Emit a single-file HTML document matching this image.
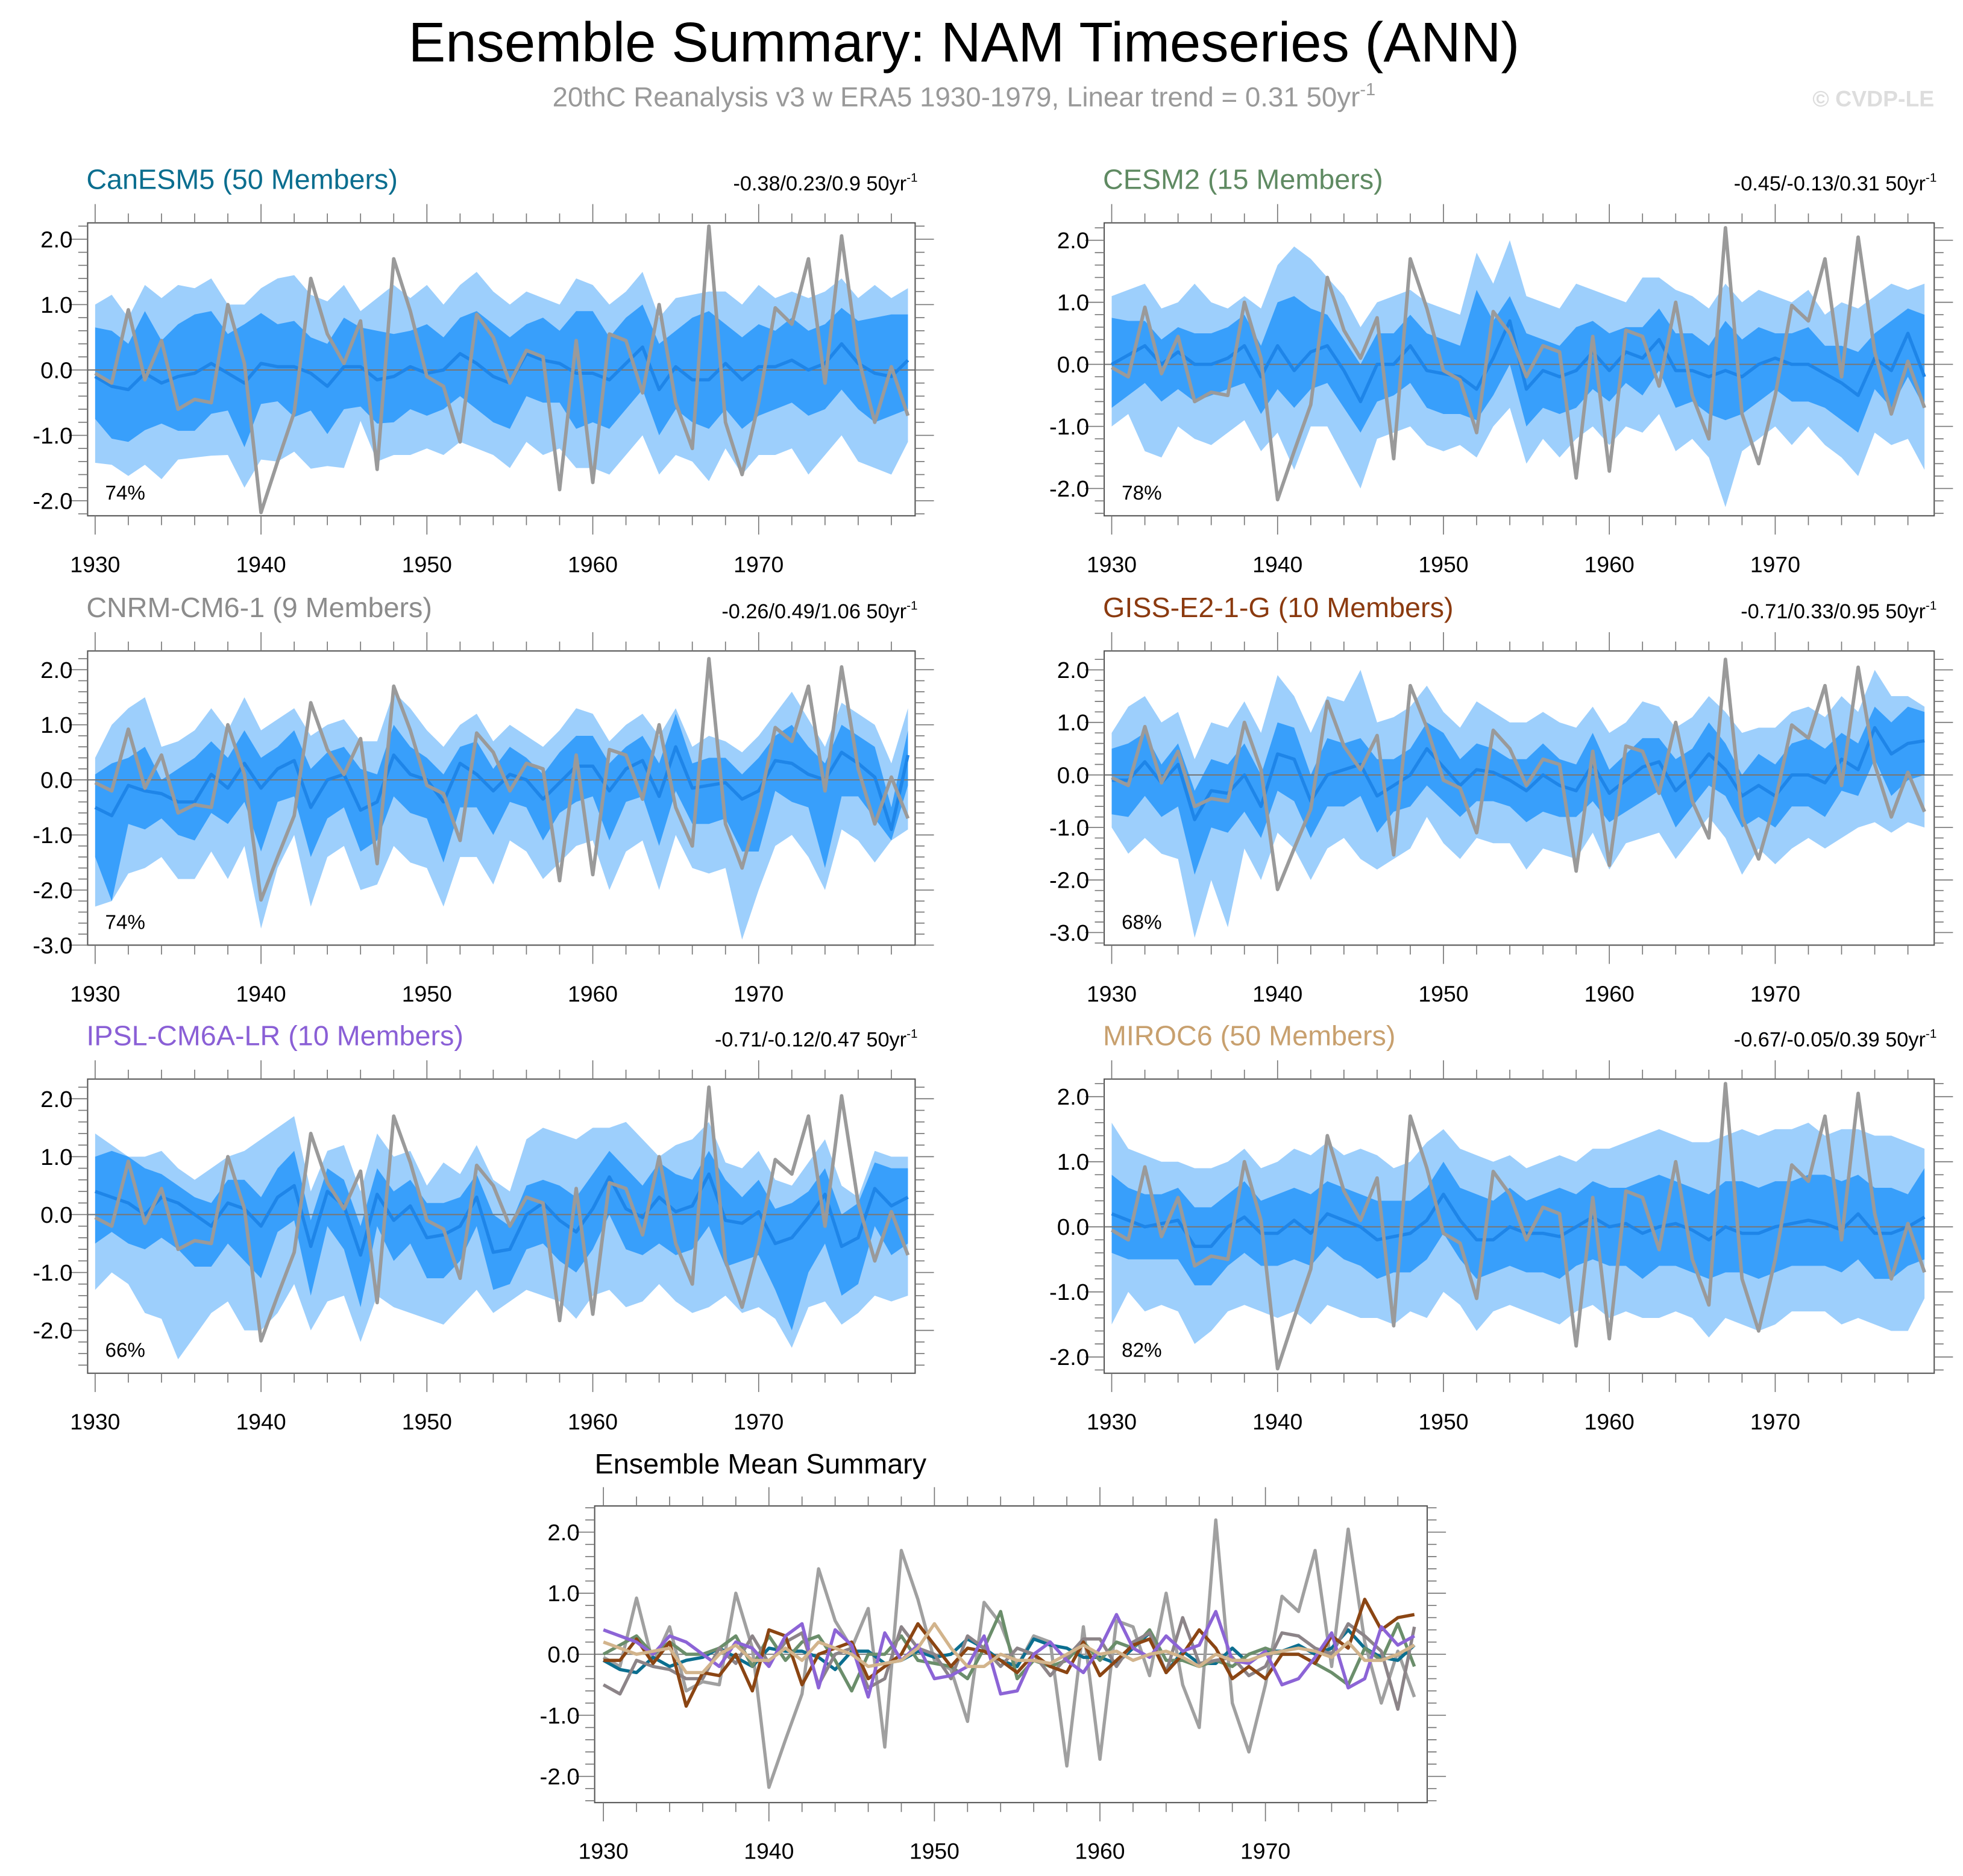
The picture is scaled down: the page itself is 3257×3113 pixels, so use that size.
<!DOCTYPE html>
<html><head><meta charset="utf-8">
<style>
html,body{margin:0;padding:0;background:#fff;}
svg{display:block;font-family:"Liberation Sans",sans-serif;}
</style></head>
<body>
<svg id="chart" width="3257" height="3113" viewBox="0 0 1568 1498.6" xmlns="http://www.w3.org/2000/svg">
<text x="770" y="49" font-size="44.5" text-anchor="middle" fill="#000">Ensemble Summary: NAM Timeseries (ANN)</text>
<text x="770" y="85" font-size="22" text-anchor="middle" fill="#999">20thC Reanalysis v3 w ERA5 1930-1979, Linear trend = 0.31 50yr<tspan font-size="14" dy="-9">-1</tspan></text>
<text x="1545" y="85" font-size="18" font-weight="bold" text-anchor="end" fill="#ddd">© CVDP-LE</text>
<g id="plots"></g>
</svg>
<script>
const years = [];
for (let y = 1930; y <= 1979; y++) years.push(y);
const obs = [-0.05,-0.2,0.92,-0.15,0.45,-0.6,-0.45,-0.5,1.0,0.1,-2.18,-1.4,-0.65,1.4,0.55,0.1,0.75,-1.52,1.7,0.9,-0.1,-0.25,-1.1,0.85,0.5,-0.2,0.3,0.2,-1.83,0.45,-1.72,0.55,0.45,-0.35,1.0,-0.5,-1.2,2.2,-0.8,-1.6,-0.5,0.95,0.7,1.7,-0.2,2.05,0.2,-0.8,0.05,-0.7];

const canMean = [-0.1,-0.25,-0.3,-0.05,-0.2,-0.1,-0.05,0.1,-0.05,-0.2,0.1,0.05,0.05,-0.05,-0.25,0.05,0.05,-0.15,-0.1,0.05,-0.05,0.0,0.25,0.1,-0.1,-0.2,0.25,0.15,0.1,-0.05,-0.05,-0.15,0.1,0.35,-0.3,0.05,-0.15,-0.15,0.1,-0.15,0.05,0.05,0.15,0.0,0.1,0.4,0.1,-0.05,-0.1,0.15];
const canHi2 = [1.0,1.15,0.8,1.3,1.1,1.3,1.25,1.4,1.0,1.0,1.25,1.4,1.45,1.15,1.05,1.3,0.9,1.1,1.3,1.1,1.3,1.0,1.3,1.5,1.2,1.0,1.2,1.1,1.0,1.4,1.3,1.0,1.2,1.5,0.8,1.1,1.15,1.2,1.2,1.0,1.3,1.1,1.2,1.1,1.2,1.4,1.1,1.3,1.1,1.25];
const canHi1 = [0.65,0.6,0.4,0.9,0.45,0.7,0.85,0.9,0.55,0.7,0.87,0.7,0.75,0.5,0.4,0.8,0.65,0.6,0.55,0.6,0.7,0.5,0.8,0.9,0.7,0.5,0.7,0.8,0.6,0.9,0.9,0.5,0.8,1.0,0.4,0.6,0.8,0.9,0.7,0.5,0.7,0.6,0.8,0.6,0.7,0.95,0.75,0.8,0.85,0.85];
const canLo1 = [-0.75,-1.05,-1.1,-0.92,-0.82,-0.93,-0.93,-0.67,-0.62,-1.18,-0.52,-0.48,-0.72,-0.62,-0.98,-0.6,-0.56,-0.82,-0.8,-0.6,-0.7,-0.6,-0.4,-0.6,-0.8,-0.9,-0.4,-0.5,-0.5,-0.9,-0.8,-0.9,-0.6,-0.3,-1.0,-0.6,-0.8,-0.9,-0.6,-0.9,-0.7,-0.6,-0.5,-0.7,-0.6,-0.3,-0.6,-0.8,-0.7,-0.6];
const canLo2 = [-1.42,-1.45,-1.62,-1.45,-1.67,-1.37,-1.34,-1.31,-1.3,-1.8,-1.37,-1.4,-1.25,-1.51,-1.47,-1.5,-0.78,-1.4,-1.3,-1.3,-1.2,-1.3,-1.1,-1.2,-1.3,-1.5,-1.1,-1.3,-1.2,-1.5,-1.5,-1.6,-1.3,-1.0,-1.6,-1.3,-1.4,-1.7,-1.2,-1.6,-1.3,-1.3,-1.2,-1.6,-1.3,-1.0,-1.4,-1.5,-1.6,-1.1];

const cesmMean = [0.0,0.15,0.3,0.0,0.2,0.0,0.0,0.1,0.3,-0.2,0.3,-0.1,0.2,0.3,-0.1,-0.6,0.0,0.0,0.3,-0.1,-0.15,-0.2,-0.4,0.1,0.7,-0.4,-0.1,-0.2,-0.1,0.2,-0.1,0.2,0.1,0.4,-0.1,-0.1,-0.2,-0.1,-0.2,0.0,0.1,0.0,0.0,-0.15,-0.3,-0.5,0.1,-0.1,0.5,-0.2];
const cesmHi2 = [1.1,1.2,1.3,0.9,1.0,1.3,1.0,0.9,1.1,0.9,1.6,1.9,1.7,1.4,1.1,0.6,1.0,1.1,1.2,1.0,0.9,0.8,1.8,1.3,2.0,1.1,1.0,0.9,1.3,1.2,1.1,1.0,1.4,1.4,1.2,1.1,0.9,1.3,1.0,1.2,1.1,1.0,1.2,0.8,1.0,0.9,1.1,1.3,1.2,1.3];
const cesmHi1 = [0.75,0.7,0.7,0.4,0.6,0.5,0.5,0.6,0.8,0.3,1.0,1.1,0.9,0.8,0.4,0.0,0.5,0.5,0.8,0.5,0.4,0.3,1.2,0.7,1.1,0.5,0.4,0.3,0.6,0.7,0.5,0.6,0.6,0.9,0.5,0.5,0.3,0.7,0.4,0.6,0.5,0.5,0.6,0.3,0.3,0.2,0.5,0.7,0.9,0.8];
const cesmLo1 = [-0.7,-0.5,-0.3,-0.6,-0.4,-0.6,-0.5,-0.4,-0.3,-0.8,-0.4,-0.7,-0.4,-0.3,-0.7,-1.1,-0.6,-0.5,-0.3,-0.7,-0.8,-0.8,-0.9,-0.5,0.0,-1.0,-0.7,-0.8,-0.7,-0.4,-0.6,-0.3,-0.5,-0.1,-0.7,-0.6,-0.8,-0.9,-0.8,-0.6,-0.4,-0.6,-0.6,-0.7,-0.9,-1.1,-0.4,-0.7,-0.2,-0.7];
const cesmLo2 = [-1.0,-0.8,-1.4,-1.5,-1.0,-1.2,-1.3,-1.1,-0.9,-1.4,-1.1,-1.7,-1.0,-1.0,-1.5,-2.0,-1.2,-1.1,-1.0,-1.3,-1.4,-1.3,-1.5,-1.0,-0.7,-1.6,-1.2,-1.5,-1.2,-1.0,-1.3,-1.0,-1.1,-0.8,-1.4,-1.2,-1.5,-2.3,-1.4,-1.2,-1.0,-1.3,-1.0,-1.3,-1.5,-1.8,-1.1,-1.3,-1.2,-1.7];

const cnrmMean = [-0.5,-0.65,-0.1,-0.2,-0.25,-0.4,-0.4,0.1,-0.15,0.3,-0.15,0.2,0.35,-0.5,0.0,0.1,-0.55,-0.4,0.45,0.1,0.0,-0.4,0.3,0.1,-0.2,0.1,0.0,-0.35,-0.05,0.25,0.25,-0.2,0.2,0.35,-0.3,0.6,-0.15,-0.1,-0.05,-0.35,-0.2,0.35,0.3,0.1,0.0,0.5,0.3,0.05,-0.9,0.45];
const cnrmHi2 = [0.4,1.0,1.3,1.5,0.6,0.7,0.9,1.3,0.9,1.5,0.9,1.1,1.3,0.8,1.0,1.1,0.7,0.7,1.6,1.3,0.9,0.6,1.0,1.2,0.7,1.0,0.8,0.6,0.9,1.3,1.2,0.7,1.0,1.2,0.8,1.3,0.6,0.8,0.7,0.5,0.8,1.2,1.6,1.1,0.6,1.4,1.2,1.0,0.3,1.3];
const cnrmHi1 = [0.1,0.3,0.4,0.6,0.0,0.2,0.4,0.7,0.4,0.9,0.4,0.6,0.9,0.2,0.5,0.6,0.2,0.1,1.0,0.6,0.4,0.1,0.6,0.7,0.2,0.6,0.4,0.1,0.5,0.8,0.8,0.3,0.6,0.8,0.3,1.2,0.3,0.4,0.4,0.1,0.4,0.8,1.0,0.6,0.3,1.0,0.8,0.6,-0.5,0.9];
const cnrmLo1 = [-1.4,-2.2,-0.8,-0.9,-0.7,-1.0,-1.1,-0.6,-0.8,-0.4,-1.3,-0.4,-0.3,-1.4,-0.7,-0.5,-1.3,-1.1,-0.3,-0.6,-0.7,-1.5,-0.5,-0.5,-1.0,-0.4,-0.5,-1.1,-0.6,-0.4,-0.3,-1.1,-0.4,-0.3,-1.2,-0.2,-0.8,-0.8,-0.7,-1.3,-1.3,-0.2,-0.4,-0.5,-1.6,-0.3,-0.3,-0.7,-1.1,-0.1];
const cnrmLo2 = [-2.3,-2.2,-1.7,-1.6,-1.4,-1.8,-1.8,-1.3,-1.8,-1.2,-2.7,-1.6,-1.0,-2.3,-1.4,-1.2,-2.0,-1.9,-1.2,-1.5,-1.6,-2.3,-1.4,-1.4,-1.9,-1.1,-1.3,-1.8,-1.5,-1.2,-1.1,-2.0,-1.3,-1.1,-2.0,-1.0,-1.6,-1.7,-1.6,-2.9,-2.0,-1.2,-1.0,-1.4,-2.0,-0.9,-1.1,-1.5,-1.1,-0.9];

const gissMean = [-0.1,-0.1,0.25,-0.15,0.2,-0.85,-0.3,-0.35,0.0,-0.6,0.4,0.3,-0.5,0.0,0.1,0.2,-0.4,-0.2,0.0,0.5,0.15,-0.2,0.1,0.05,-0.1,-0.3,0.0,-0.2,-0.3,0.2,-0.35,-0.1,0.15,0.25,-0.3,0.0,0.4,0.1,-0.4,-0.2,-0.4,0.0,0.0,-0.15,0.3,0.1,0.9,0.4,0.6,0.65];
const gissHi2 = [0.8,1.3,1.5,1.0,1.2,0.3,1.0,0.9,1.4,0.8,1.9,1.5,0.8,1.5,1.4,2.0,1.0,1.1,1.3,1.7,1.2,0.9,1.4,1.2,1.0,1.0,1.2,1.0,0.9,1.3,0.8,1.0,1.4,1.3,0.9,1.1,1.5,1.2,0.8,0.9,0.9,1.2,1.3,1.1,1.5,1.2,2.0,1.5,1.5,1.3];
const gissHi1 = [0.5,0.6,0.8,0.2,0.6,-0.3,0.3,0.2,0.6,0.0,1.0,0.9,0.0,0.7,0.6,0.7,0.3,0.3,0.5,1.0,0.8,0.3,0.6,0.5,0.3,0.3,0.6,0.3,0.2,0.8,0.1,0.4,0.7,0.7,0.3,0.5,1.0,0.6,0.0,0.4,0.2,0.6,0.7,0.5,0.8,0.6,1.3,1.0,1.3,1.2];
const gissLo1 = [-0.75,-0.8,-0.4,-0.8,-0.6,-1.9,-1.0,-1.1,-0.7,-1.2,-0.3,-0.5,-1.2,-0.6,-0.6,-0.4,-1.1,-0.7,-0.6,-0.2,-0.5,-0.8,-0.5,-0.5,-0.6,-0.9,-0.7,-0.8,-0.8,-0.5,-0.9,-0.7,-0.5,-0.3,-1.0,-0.6,-0.2,-0.4,-1.0,-0.8,-1.0,-0.6,-0.6,-0.8,-0.3,-0.4,0.3,-0.4,-0.1,0.0];
const gissLo2 = [-1.0,-1.5,-1.2,-1.5,-1.6,-3.1,-2.0,-2.9,-1.4,-2.0,-1.1,-1.4,-2.0,-1.4,-1.2,-1.6,-1.8,-1.6,-1.4,-0.8,-1.3,-1.6,-1.2,-1.3,-1.3,-1.8,-1.4,-1.5,-1.6,-1.1,-1.8,-1.3,-1.2,-1.1,-1.6,-1.2,-0.8,-1.2,-1.9,-1.4,-1.7,-1.4,-1.2,-1.4,-1.2,-1.0,-0.9,-1.1,-0.9,-1.0];

const ipslMean = [0.4,0.3,0.2,0.0,0.3,0.2,0.0,-0.2,0.2,0.1,-0.2,0.3,0.5,-0.55,0.4,0.15,-0.7,0.35,-0.1,0.15,-0.4,-0.35,-0.2,0.3,-0.65,-0.6,0.0,0.2,-0.1,-0.3,0.1,0.65,0.1,-0.05,0.3,0.05,0.15,0.7,-0.1,-0.15,0.05,-0.5,-0.4,-0.05,0.35,-0.55,-0.4,0.45,0.15,0.3];
const ipslHi2 = [1.4,1.2,1.0,1.0,1.1,0.8,0.6,0.8,1.0,1.1,1.3,1.5,1.7,0.4,1.1,1.2,0.4,1.4,1.0,1.1,0.5,0.9,0.7,1.2,0.6,0.4,1.3,1.5,1.4,1.3,1.5,1.5,1.6,1.3,1.0,1.2,1.3,1.6,0.9,0.8,1.1,0.6,0.5,0.9,1.3,0.5,0.3,1.1,1.0,1.0];
const ipslHi1 = [1.0,1.1,1.0,0.8,0.7,0.5,0.3,0.2,0.6,0.6,0.3,0.8,1.1,-0.1,0.8,0.6,-0.2,0.8,0.4,0.6,0.2,0.2,0.3,0.7,0.0,-0.2,0.5,0.6,0.5,0.3,0.7,1.1,0.8,0.5,0.9,0.7,0.6,1.1,0.6,0.3,0.6,0.1,0.2,0.4,0.8,0.0,0.2,0.9,0.8,0.8];
const ipslLo1 = [-0.5,-0.3,-0.5,-0.6,-0.4,-0.6,-0.9,-0.9,-0.5,-0.8,-1.1,-0.3,-0.1,-1.4,-0.2,-0.6,-1.6,-0.2,-0.8,-0.5,-1.1,-1.1,-0.8,-0.2,-1.3,-1.2,-0.6,-0.5,-0.8,-1.0,-0.6,0.0,-0.6,-0.7,-0.5,-0.7,-0.6,-0.2,-0.9,-0.8,-0.7,-1.3,-2.0,-1.0,-0.5,-1.4,-1.2,-0.2,-0.7,-0.5];
const ipslLo2 = [-1.3,-1.0,-1.2,-1.7,-1.8,-2.5,-2.1,-1.7,-1.5,-2.0,-2.0,-1.7,-1.2,-2.0,-1.5,-1.4,-2.2,-1.4,-1.6,-1.7,-1.8,-1.9,-1.6,-1.3,-1.7,-1.5,-1.3,-1.4,-1.5,-1.8,-1.4,-1.3,-1.6,-1.5,-1.2,-1.5,-1.7,-1.6,-1.4,-1.7,-1.6,-1.8,-2.3,-1.6,-1.5,-1.9,-1.7,-1.4,-1.5,-1.4];

const mirocMean = [0.2,0.1,0.0,0.05,0.1,-0.3,-0.3,0.0,0.15,-0.1,-0.1,0.1,-0.1,0.2,0.1,0.0,-0.2,-0.15,-0.1,0.1,0.5,0.1,-0.2,-0.2,0.0,-0.1,-0.1,-0.15,0.0,0.15,0.0,0.05,-0.1,0.0,0.05,-0.05,-0.2,0.0,-0.1,-0.1,0.0,0.05,0.1,0.05,-0.05,0.2,-0.1,-0.1,0.0,0.15];
const mirocHi2 = [1.6,1.2,1.1,1.0,1.0,0.9,0.9,1.0,1.2,0.9,1.0,1.2,1.1,1.3,1.1,1.2,1.1,0.9,1.0,1.3,1.5,1.2,1.1,1.0,1.1,0.9,1.0,1.1,1.0,1.2,1.2,1.3,1.4,1.5,1.4,1.3,1.3,1.4,1.5,1.4,1.5,1.5,1.6,1.4,1.5,1.5,1.4,1.4,1.3,1.2];
const mirocHi1 = [0.8,0.6,0.5,0.5,0.6,0.3,0.3,0.5,0.7,0.4,0.5,0.6,0.5,0.7,0.6,0.5,0.4,0.4,0.4,0.6,1.0,0.6,0.5,0.4,0.6,0.4,0.5,0.6,0.5,0.7,0.6,0.6,0.7,0.8,0.7,0.6,0.5,0.7,0.7,0.6,0.7,0.7,0.8,0.8,0.7,0.8,0.6,0.6,0.5,0.9];
const mirocLo1 = [-0.4,-0.5,-0.5,-0.5,-0.5,-0.9,-0.9,-0.6,-0.4,-0.6,-0.6,-0.5,-0.6,-0.3,-0.5,-0.6,-0.8,-0.7,-0.7,-0.5,-0.1,-0.5,-0.8,-0.7,-0.6,-0.7,-0.7,-0.8,-0.6,-0.5,-0.6,-0.6,-0.8,-0.6,-0.6,-0.7,-0.8,-0.7,-0.7,-0.8,-0.7,-0.6,-0.6,-0.6,-0.7,-0.5,-0.8,-0.8,-0.6,-0.5];
const mirocLo2 = [-1.5,-1.0,-1.3,-1.2,-1.3,-1.8,-1.6,-1.3,-1.2,-1.3,-1.4,-1.3,-1.5,-1.2,-1.3,-1.4,-1.4,-1.5,-1.3,-1.4,-1.0,-1.2,-1.6,-1.3,-1.2,-1.3,-1.4,-1.5,-1.3,-1.2,-1.4,-1.3,-1.4,-1.4,-1.3,-1.4,-1.7,-1.4,-1.5,-1.6,-1.5,-1.3,-1.3,-1.3,-1.5,-1.4,-1.5,-1.6,-1.6,-1.1];

const modelNames = ["CanESM5 (50 Members)","CESM2 (15 Members)","CNRM-CM6-1 (9 Members)","GISS-E2-1-G (10 Members)","IPSL-CM6A-LR (10 Members)","MIROC6 (50 Members)"];
const trendLabels = ["-0.38/0.23/0.9 50yr","-0.45/-0.13/0.31 50yr","-0.26/0.49/1.06 50yr","-0.71/0.33/0.95 50yr","-0.71/-0.12/0.47 50yr","-0.67/-0.05/0.39 50yr"];
const pctLabels = ["74%","78%","74%","68%","66%","82%"];
const yTickLabels = [["2.0","1.0","0.0","-1.0","-2.0"],["2.0","1.0","0.0","-1.0","-2.0"],["2.0","1.0","0.0","-1.0","-2.0","-3.0"],["2.0","1.0","0.0","-1.0","-2.0","-3.0"],["2.0","1.0","0.0","-1.0","-2.0"],["2.0","1.0","0.0","-1.0","-2.0"]];
const xTickLabels = ["1930","1940","1950","1960","1970"];
const means = [canMean,cesmMean,cnrmMean,gissMean,ipslMean,mirocMean];
const hi2s = [canHi2,cesmHi2,cnrmHi2,gissHi2,ipslHi2,mirocHi2];
const hi1s = [canHi1,cesmHi1,cnrmHi1,gissHi1,ipslHi1,mirocHi1];
const lo1s = [canLo1,cesmLo1,cnrmLo1,gissLo1,ipslLo1,mirocLo1];
const lo2s = [canLo2,cesmLo2,cnrmLo2,gissLo2,ipslLo2,mirocLo2];
const modelColors = ["#0b6e8f","#6b8e6b","#8c8488","#8b4513","#8c64d6","#d2b48c"];
const titleColors = ["#0b6e8f","#5f8a62","#8c8c8c","#8b3a0f","#8a5fd6","#c8a06e"];

const layouts = [
  {x0:70,x1:731,y0:178,y1:412,vmax:2.25,vmin:-2.23,slug:"canesm5"},
  {x0:882,x1:1545,y0:178,y1:412,vmax:2.28,vmin:-2.44,slug:"cesm2"},
  {x0:70,x1:731,y0:520,y1:755,vmax:2.34,vmin:-3.0,slug:"cnrm"},
  {x0:882,x1:1545,y0:520,y1:755,vmax:2.36,vmin:-3.24,slug:"giss"},
  {x0:70,x1:731,y0:862,y1:1097,vmax:2.34,vmin:-2.74,slug:"ipsl"},
  {x0:882,x1:1545,y0:862,y1:1097,vmax:2.27,vmin:-2.25,slug:"miroc6"}
];
const NS = "http://www.w3.org/2000/svg";
const root = document.getElementById("plots");
function mk(tag, attrs, parent){
  const e = document.createElementNS(NS, tag);
  for (const k in attrs) e.setAttribute(k, attrs[k]);
  parent.appendChild(e);
  return e;
}
function drawAxes(g, L, sx, sy, yLabels, stepMinor){
  const fr = mk("rect",{x:L.x0,y:L.y0,width:L.x1-L.x0,height:L.y1-L.y0,fill:"none",stroke:"#555","stroke-width":1},g);
  
  
  const lo = Math.ceil(L.vmin/stepMinor - 1e-6), hi = Math.floor(L.vmax/stepMinor + 1e-6);
  for (let i = lo; i <= hi; i++){
    const v = i*stepMinor, y = sy(v);
    const major = Math.abs(v - Math.round(v)) < 1e-6;
    const len = major ? 15 : 7.5;
    mk("line",{x1:L.x0-len,x2:L.x0,y1:y,y2:y,stroke:"#777","stroke-width":0.8},g);
    mk("line",{x1:L.x1,x2:L.x1+len,y1:y,y2:y,stroke:"#777","stroke-width":0.8},g);
  }
  yLabels.forEach(s => {
    const t = mk("text",{x:L.x0-12,y:sy(parseFloat(s))+6.5,"font-size":18.5,"text-anchor":"end",fill:"#000"},g);
    t.textContent = s;
    
    
  });
  for (let yr = 1930; yr <= 1979; yr += 2){
    const x = sx(yr), major = yr % 10 === 0, len = major ? 15 : 7.5;
    mk("line",{x1:x,x2:x,y1:L.y0-len,y2:L.y0,stroke:"#777","stroke-width":0.8},g);
    mk("line",{x1:x,x2:x,y1:L.y1,y2:L.y1+len,stroke:"#777","stroke-width":0.8},g);
  }
  xTickLabels.forEach(s => {
    const t = mk("text",{x:sx(parseFloat(s)),y:L.y1+45,"font-size":18,"text-anchor":"middle",fill:"#000"},g);
    t.textContent = s;
    
    
  });
}
function linePath(vals, sx, sy){
  return vals.map((v,i) => (i?"L":"M") + sx(years[i]).toFixed(2) + "," + sy(v).toFixed(2)).join(" ");
}
function bandPath(hiV, loV, sx, sy){
  let d = hiV.map((v,i) => (i?"L":"M") + sx(years[i]).toFixed(2) + "," + sy(v).toFixed(2)).join(" ");
  for (let i = loV.length-1; i >= 0; i--) d += " L" + sx(years[i]).toFixed(2) + "," + sy(loV[i]).toFixed(2);
  return d + " Z";
}
layouts.forEach((L, p) => {
  const g = mk("g",{},root);
  
  
  const sx = yr => L.x0 + 6 + (yr - 1930) * 13.25;
  const sy = v => L.y0 + (L.vmax - v) / (L.vmax - L.vmin) * (L.y1 - L.y0);
  const outer = mk("path",{d:bandPath(hi2s[p],lo2s[p],sx,sy),fill:"#9dcffc"},g);
  
  
  const inner = mk("path",{d:bandPath(hi1s[p],lo1s[p],sx,sy),fill:"#389ffb"},g);
  
  
  mk("line",{x1:L.x0,x2:L.x1,y1:sy(0),y2:sy(0),stroke:"#777","stroke-width":1},g);
  const ml = mk("path",{d:linePath(means[p],sx,sy),fill:"none",stroke:"#1e85e8","stroke-width":2.6,"stroke-linejoin":"round"},g);
  
  
  const ol = mk("path",{d:linePath(obs,sx,sy),fill:"none",stroke:"#9a9a9a","stroke-width":2.8,"stroke-linejoin":"round"},g);
  
  
  drawAxes(g, L, sx, sy, yTickLabels[p], 0.2);
  const tt = mk("text",{x:L.x0-1,y:L.y0-27,"font-size":22.5,fill:titleColors[p]},g);
  tt.textContent = modelNames[p];
  
  
  const tr = mk("text",{x:L.x1+2,y:L.y0-26,"font-size":16.5,"text-anchor":"end",fill:"#000"},g);
  tr.textContent = trendLabels[p];
  const sup = mk("tspan",{"font-size":10,dy:-7},tr);
  sup.textContent = "-1";
  
  
  const pc = mk("text",{x:L.x0+14,y:L.y1-13,"font-size":16,fill:"#000"},g);
  pc.textContent = pctLabels[p];
  
  
});
(function(){
  const L = {x0:475,x1:1140,y0:1203,y1:1440,vmax:2.43,vmin:-2.43};
  const g = mk("g",{},root);
  
  
  const sx = yr => L.x0 + 7 + (yr - 1930) * 13.22;
  const sy = v => L.y0 + (L.vmax - v) / (L.vmax - L.vmin) * (L.y1 - L.y0);
  mk("line",{x1:L.x0,x2:L.x1,y1:sy(0),y2:sy(0),stroke:"#888","stroke-width":1},g);
  const ol = mk("path",{d:linePath(obs,sx,sy),fill:"none",stroke:"#a0a0a0","stroke-width":2.6,"stroke-linejoin":"round"},g);
  
  
  means.forEach((m, p) => {
    const l = mk("path",{d:linePath(m,sx,sy),fill:"none",stroke:modelColors[p],"stroke-width":2.6,"stroke-linejoin":"round"},g);
    
    
  });
  drawAxes(g, L, sx, sy, ["2.0","1.0","0.0","-1.0","-2.0"], 0.2);
  const tt = mk("text",{x:L.x0,y:L.y0-26,"font-size":22.5,fill:"#000"},g);
  tt.textContent = "Ensemble Mean Summary";
  
  
})();
</script>
</body></html>
